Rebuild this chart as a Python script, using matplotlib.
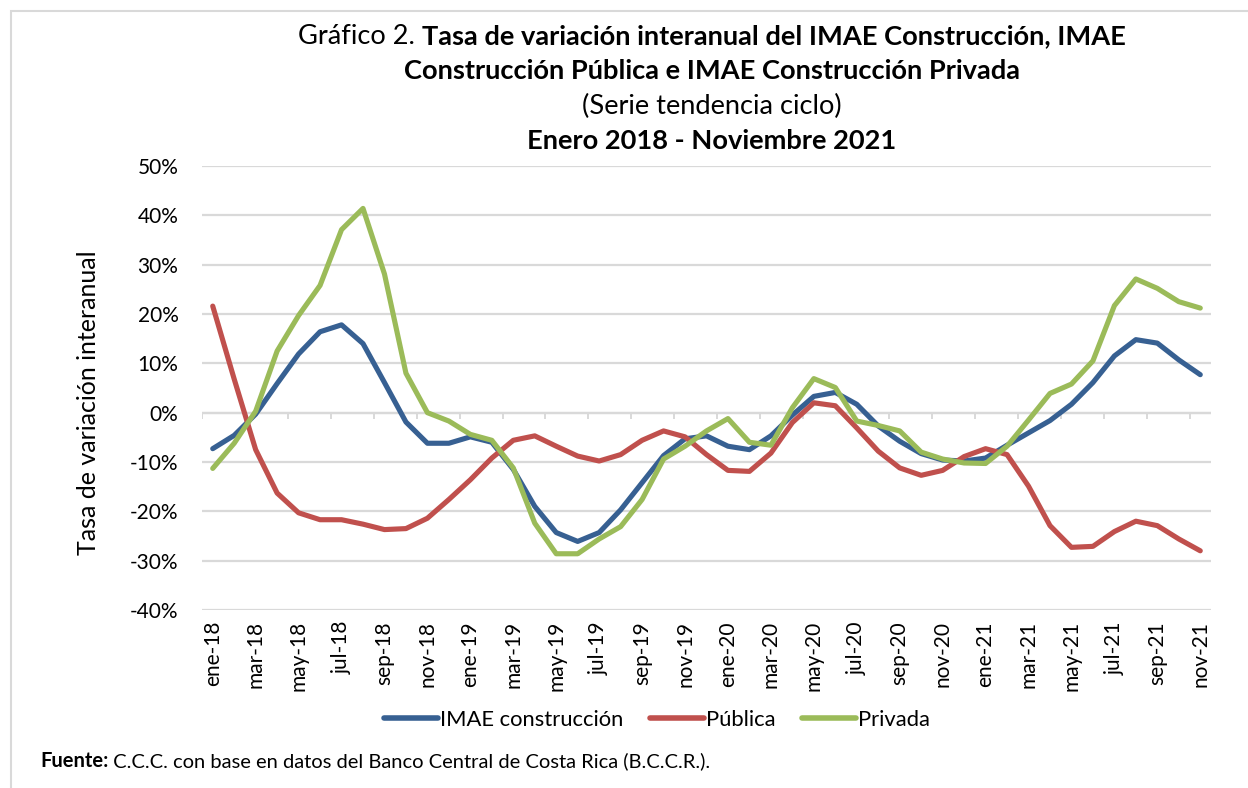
import matplotlib
matplotlib.use("Agg")
import matplotlib.pyplot as plt
from matplotlib.lines import Line2D
from matplotlib.patches import Rectangle
from matplotlib.ticker import FuncFormatter, MultipleLocator

FONT = "Lato"
plt.rcParams['font.family'] = [FONT, 'DejaVu Sans']

labels = ['ene-18', 'feb-18', 'mar-18', 'abr-18', 'may-18', 'jun-18', 'jul-18', 'ago-18',
          'sep-18', 'oct-18', 'nov-18', 'dic-18',
          'ene-19', 'feb-19', 'mar-19', 'abr-19', 'may-19', 'jun-19', 'jul-19', 'ago-19',
          'sep-19', 'oct-19', 'nov-19', 'dic-19',
          'ene-20', 'feb-20', 'mar-20', 'abr-20', 'may-20', 'jun-20', 'jul-20', 'ago-20',
          'sep-20', 'oct-20', 'nov-20', 'dic-20',
          'ene-21', 'feb-21', 'mar-21', 'abr-21', 'may-21', 'jun-21', 'jul-21', 'ago-21',
          'sep-21', 'oct-21', 'nov-21']

imae = [-7.3, -4.6, -0.3, 5.9, 11.9, 16.4, 17.8, 14.0, 6.1, -1.9, -6.2, -6.2, -4.9,
        -6.0, -11.5, -19.0, -24.3, -26.1, -24.3, -19.7, -14.2, -8.7, -5.3, -4.7, -6.8, -7.5, -4.7,
        -0.5, 3.3, 4.1, 1.7, -2.7, -5.8, -8.3, -9.6, -9.8, -9.2, -6.6, -4.1, -1.6, 1.7, 6.1,
        11.5, 14.8, 14.1, 10.7, 7.7]

publica = [21.6, 6.8, -7.5, -16.3, -20.3, -21.7, -21.7, -22.6, -23.7, -23.5, -21.4, -17.6, -13.6,
           -9.2, -5.6, -4.7, -6.8, -8.8, -9.8, -8.5, -5.6, -3.7, -4.9, -8.5, -11.7, -11.9, -8.2,
           -2.0, 2.0, 1.4, -3.1, -7.8, -11.2, -12.7, -11.7, -8.9, -7.3, -8.5, -14.9, -22.9, -27.3,
           -27.1, -24.1, -22.0, -22.9, -25.6, -28.0]

privada = [-11.3, -6.2, 0.3, 12.5, 19.7, 25.8, 37.1, 41.4, 28.1, 8.0, 0.0, -1.7, -4.4,
           -5.6, -11.2, -22.4, -28.6, -28.6, -25.6, -23.1, -17.6, -9.4, -6.8, -3.7, -1.2, -6.0, -6.6,
           1.0, 6.9, 5.1, -1.7, -2.6, -3.7, -8.0, -9.4, -10.2, -10.3, -6.8, -1.5, 3.9, 5.8, 10.5,
           21.7, 27.1, 25.2, 22.5, 21.2]

series_names = ['IMAE construcción', 'Pública', 'Privada']
colors = ['#376092', '#C0504D', '#9BBB59']

W, H = 1248, 788
fig = plt.figure(figsize=(W / 100, H / 100), dpi=100)
fig.patch.set_facecolor('white')

# light frame (top & left visible)
fig.add_artist(Rectangle((11 / W, -0.05), 1.2, 1 - 11 / H + 0.05, transform=fig.transFigure,
                         fill=False, edgecolor='#d9d9d9', linewidth=1.5))

ax = fig.add_axes([202 / W, 1 - 610 / H, (1211 - 202) / W, (610 - 166) / H])
x = list(range(len(labels)))
for vals, c, n in zip([imae, publica, privada], colors, series_names):
    ax.plot(x, vals, color=c, lw=3.7, solid_joinstyle='round', solid_capstyle='round',
            label=n, zorder=3)

ax.set_xlim(-0.5, len(labels) - 0.5)
ax.set_ylim(-40, 50)
ax.yaxis.set_major_locator(MultipleLocator(10))
ax.yaxis.set_major_formatter(FuncFormatter(lambda v, p: f"{v:.0f}%"))
ax.grid(axis='y', color='#d9d9d9', lw=1.6, zorder=0)
ax.set_axisbelow(True)
for s in ax.spines.values():
    s.set_visible(False)

# category axis at 0 with tick marks on boundaries
ax.axhline(0, color='#d9d9d9', lw=1.6, zorder=1)
for b in range(0, len(labels) + 1, 2):
    ax.plot([b - 0.5, b - 0.5], [0, -1.1], color='#d9d9d9', lw=1.4, zorder=1)

ax.set_xticks(x[::2])
ax.set_xticklabels(labels[::2], rotation=90, fontsize=15)
ax.tick_params(axis='x', length=0, pad=8)
ax.tick_params(axis='y', length=0, pad=17, labelsize=15)
ax.set_ylabel('Tasa de variación interanual', fontsize=18)
ax.yaxis.set_label_coords(-0.101, 0.468)

# title with mixed weights
renderer = fig.canvas.get_renderer()

def mixed_line(runs, ycen, size, xcen=712):
    widths = []
    arts = []
    for txt, wt in runs:
        t = fig.text(0, 0, txt, fontsize=size, fontweight=wt, ha='left', va='center')
        arts.append(t)
        widths.append(t.get_window_extent(renderer).width)
    total = sum(widths)
    xl = xcen - total / 2
    for t, w in zip(arts, widths):
        t.set_position((xl / W, 1 - ycen / H))
        xl += w

mixed_line([('Gráfico 2. ', 'normal'),
            ('Tasa de variación interanual del IMAE Construcción, IMAE', 'bold')], 36, 19.6)
mixed_line([('Construcción Pública e IMAE Construcción Privada', 'bold')], 71, 19.6)
mixed_line([('(Serie tendencia ciclo)', 'normal')], 106, 19.6)
mixed_line([('Enero 2018 - Noviembre 2021', 'bold')], 141, 19.6)

handles = [Line2D([0], [0], color=c, lw=4, solid_capstyle='round') for c in colors]
fig.legend(handles, series_names, loc='center', bbox_to_anchor=(657 / W, 1 - 720 / H),
           ncol=3, frameon=False, fontsize=15.8, handlelength=2.45, handletextpad=0.1,
           columnspacing=1.2)

# footer
t1 = fig.text(40 / W, 1 - 761 / H, 'Fuente:', fontsize=14.5, fontweight='bold', va='center', ha='left')
w1 = t1.get_window_extent(renderer).width
fig.text((40 + w1) / W, 1 - 761 / H, ' C.C.C. con base en datos del Banco Central de Costa Rica (B.C.C.R.).',
         fontsize=14.5, va='center', ha='left')

fig.savefig('out.png', dpi=100, facecolor='white')
